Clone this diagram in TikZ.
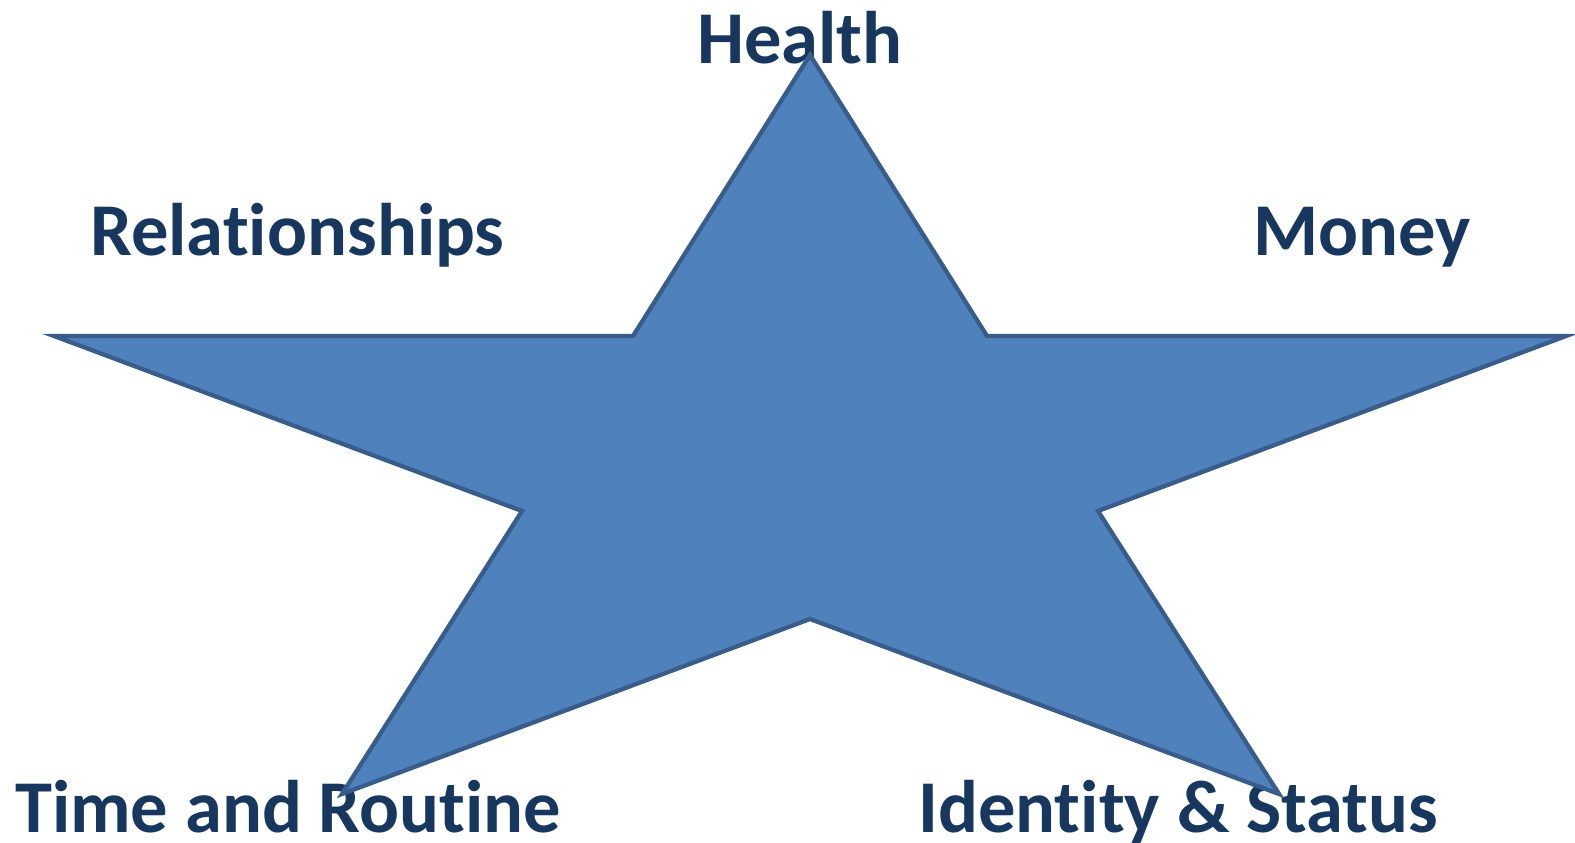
\documentclass[tikz,border=0pt]{standalone}
\usepackage{fontspec}
\setmainfont[Ligatures={NoCommon,NoDiscretionary}]{Carlito}
\definecolor{txtblue}{HTML}{17375E}
\definecolor{starfill}{HTML}{4F81BD}
\definecolor{starline}{HTML}{385D8A}
\begin{document}
\begin{tikzpicture}[x=1pt,y=-1pt,
  lbl/.style={inner sep=0pt,anchor=base west,text=txtblue,font=\fontsize{74.5}{90}\selectfont\bfseries},
  starshape/.style={fill=starfill,draw=starline,line width=4.3pt,line join=miter}]
\useasboundingbox (0,0) rectangle (1575,843);
\node[lbl] (health) at (697,64) {Health};
\node[lbl] (rel) at (90,255) {Relationships};
\node[lbl] (money) at (1253,255) {Money};
\node[lbl] (time) at (15,832) {Time and Routine};
\node[lbl] (ident) at (918,832) {Identity \& Status};
\coordinate (p1) at (810,55);
\coordinate (p2) at (987,336);
\coordinate (p3) at (1566,336);
\coordinate (p4) at (1098,511);
\coordinate (p5) at (1279,794);
\coordinate (p6) at (810,619);
\coordinate (p7) at (342,794);
\coordinate (p8) at (522,511);
\coordinate (p9) at (54,336);
\coordinate (p10) at (633,336);
\draw[starshape] (p1) -- (p2) -- (p3) -- (p4) -- (p5) -- (p6) -- (p7) -- (p8) -- (p9) -- (p10) -- cycle;
\end{tikzpicture}
\end{document}
